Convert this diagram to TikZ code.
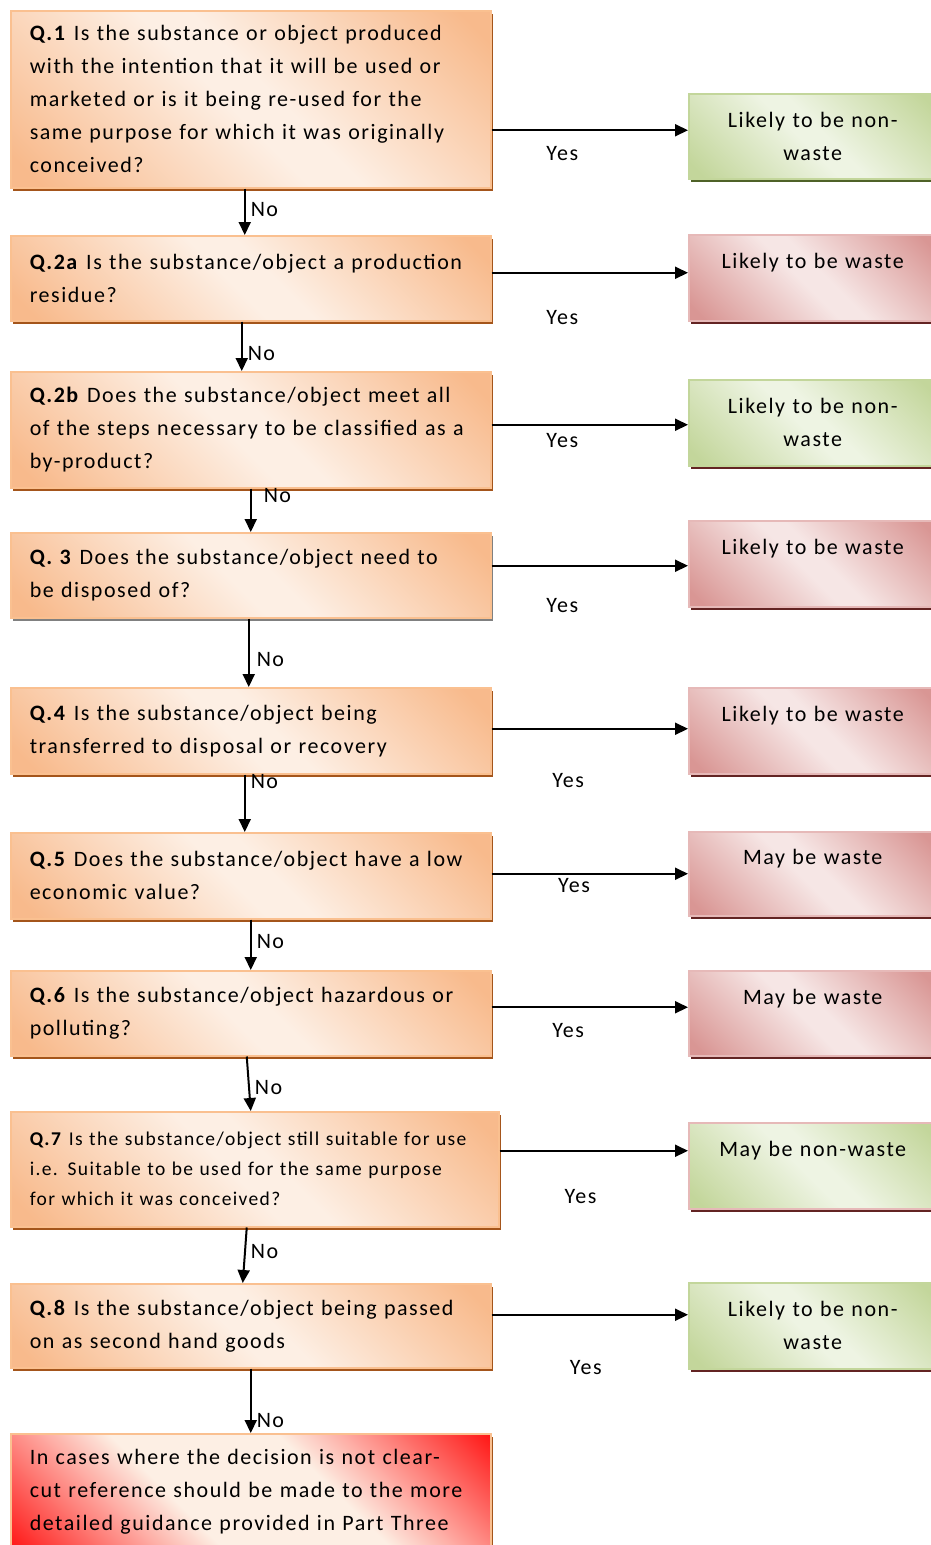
\documentclass[tikz,border=0pt]{standalone}
\usepackage{fontspec}
\setmainfont{Carlito}[LetterSpace=7]
\usetikzlibrary{arrows.meta,shadows}
\definecolor{qedge}{HTML}{F8BA8C}
\definecolor{qmid}{HTML}{FDEFE4}
\definecolor{qline}{HTML}{FAC090}
\definecolor{qshadow}{HTML}{A4551B}
\definecolor{gedge}{HTML}{C3D69B}
\definecolor{gmid}{HTML}{EEF4E3}
\definecolor{gline}{HTML}{C3D69B}
\definecolor{gshadow}{HTML}{4F6228}
\definecolor{redge}{HTML}{D99694}
\definecolor{rmid}{HTML}{F6E6E5}
\definecolor{rline}{HTML}{E6B9B8}
\definecolor{rshadow}{HTML}{632423}
\definecolor{fedge}{HTML}{FF0000}
\pgfdeclareverticalshading{qshade}{100bp}{color(0bp)=(qedge); color(18bp)=(qedge); color(47bp)=(qmid);
  color(53bp)=(qmid); color(82bp)=(qedge); color(100bp)=(qedge)}
\pgfdeclareverticalshading{gshade}{100bp}{color(0bp)=(gedge); color(18bp)=(gedge); color(47bp)=(gmid);
  color(53bp)=(gmid); color(82bp)=(gedge); color(100bp)=(gedge)}
\pgfdeclareverticalshading{rshade}{100bp}{color(0bp)=(redge); color(18bp)=(redge); color(47bp)=(rmid);
  color(53bp)=(rmid); color(82bp)=(redge); color(100bp)=(redge)}
\pgfdeclareverticalshading{fshade}{100bp}{color(0bp)=(fedge); color(12bp)=(fedge); color(40bp)=(qmid);
  color(60bp)=(qmid); color(88bp)=(fedge); color(100bp)=(fedge)}
\begin{document}
\begin{tikzpicture}[x=1pt,y=-1pt,
  font=\fontsize{22}{33}\selectfont,
  box/.style={line width=1.5pt, anchor=north west, inner ysep=0pt, shading angle=135,
    general shadow={fill=#1, shadow xshift=2pt, shadow yshift=-3pt}},
  question/.style={box=qshadow, draw=qline, align=left, text width=442pt, inner xsep=19pt,
    shading=qshade},
  greenbox/.style={box=#1, draw=gline, align=center, text width=240pt, inner xsep=4pt,
    minimum height=86pt, shading=gshade},
  greenbox/.default=gshadow,
  redbox/.style={box=rshadow, draw=rline, align=center, text width=240pt, inner xsep=4pt,
    minimum height=86pt, shading=rshade},
  yesarrow/.style={line width=2pt, -{Triangle[length=13pt,width=12pt]}},
  noarrow/.style={line width=2pt, -{Triangle[length=13pt,width=12pt]}},
  answer/.style={inner sep=0pt}]
\useasboundingbox (0,0) rectangle (931,1545);

% questions
\node[question, minimum height=177pt] (q1) at (10,10)
  {\textbf{Q.1} Is the substance or object produced\\ with the intention that it will be used or\\
   marketed or is it being re-used for the\\ same purpose for which it was originally\\ conceived?};
\node[question, minimum height=85pt] (q2a) at (10,235)
  {\textbf{Q.2a} Is the substance/object a production\\ residue?};
\node[question, minimum height=116pt] (q2b) at (10,371)
  {\textbf{Q.2b} Does the substance/object meet all\\ of the steps necessary to be classified as a\\ by-product?};
\node[question, minimum height=85pt, general shadow={fill=gray, shadow xshift=2pt, shadow yshift=-3pt}] (q3) at (10,532)
  {\textbf{Q. 3} Does the substance/object need to\\ be disposed of?};
\node[question, minimum height=86pt] (q4) at (10,687)
  {\textbf{Q.4} Is the substance/object being\\ transferred to disposal or recovery};
\node[question, minimum height=86pt] (q5) at (10,832)
  {\textbf{Q.5} Does the substance/object have a low\\ economic value?};
\node[question, minimum height=85pt] (q6) at (10,970)
  {\textbf{Q.6} Is the substance/object hazardous or\\ polluting?};
\node[question, minimum height=115pt, text width=450pt, font=\fontsize{19.5}{30}\selectfont] (q7) at (10,1111)
  {\textbf{Q.7} Is the substance/object still suitable for use\\ i.e. Suitable to be used for the same purpose\\ for which it was conceived?};
\node[question, minimum height=84pt] (q8) at (10,1283)
  {\textbf{Q.8} Is the substance/object being passed\\ on as second hand goods};
\node[question, minimum height=116pt, shading=fshade] (guide) at (10,1433)
  {In cases where the decision is not clear-\\ cut reference should be made to the more\\ detailed guidance provided in Part Three};

% outcomes
\node[greenbox, minimum height=85pt] (r1) at (688,93) {Likely to be non-\\waste};
\node[redbox] (r2) at (688,234) {Likely to be waste\\~};
\node[greenbox=rshadow] (r3) at (688,379) {Likely to be non-\\waste};
\node[redbox] (r4) at (688,520) {Likely to be waste\\~};
\node[redbox] (r5) at (688,687) {Likely to be waste\\~};
\node[redbox, minimum height=84pt] (r6) at (688,831) {May be waste\\~};
\node[redbox, minimum height=85pt] (r7) at (688,970) {May be waste\\~};
\node[greenbox=rshadow, draw=rline] (r8) at (688,1122) {May be non-waste\\~};
\node[greenbox=rshadow] (r9) at (688,1282) {Likely to be non-\\waste};

% yes
\draw[yesarrow, transform canvas={yshift=6pt}] (q1.east |- r1.west) -- node[answer, pos=.36, yshift=-23pt] {Yes} (r1.west);
\draw[yesarrow, transform canvas={yshift=5pt}] (q2a.east |- r2.west) -- node[answer, pos=.36, yshift=-45pt] {Yes} (r2.west);
\draw[yesarrow, transform canvas={yshift=-2pt}] (q2b.east |- r3.west) -- node[answer, pos=.36, yshift=-16pt] {Yes} (r3.west);
\draw[yesarrow, transform canvas={yshift=-2pt}] (q3.east |- r4.west) -- node[answer, pos=.36, yshift=-40pt] {Yes} (r4.west);
\draw[yesarrow, transform canvas={yshift=2pt}] (q4.east |- r5.west) -- node[answer, pos=.39, yshift=-52pt] {Yes} (r5.west);
\draw[yesarrow] (q5.east |- r6.west) -- node[answer, pos=.42, yshift=-12pt] {Yes} (r6.west);
\draw[yesarrow, transform canvas={yshift=6pt}] (q6.east |- r7.west) -- node[answer, pos=.39, yshift=-23pt] {Yes} (r7.west);
\draw[yesarrow, transform canvas={yshift=15pt}] (q7.east |- r8.west) -- node[answer, pos=.43, yshift=-46pt] {Yes} (r8.west);
\draw[yesarrow, transform canvas={yshift=11pt}] (q8.east |- r9.west) -- node[answer, pos=.48, yshift=-53pt] {Yes} (r9.west);

% no
\draw[noarrow, transform canvas={xshift=-6pt}] (q1.south) -- node[answer, right=5pt, pos=.46] {No} (q2a.north);
\draw[noarrow, transform canvas={xshift=-9pt}] (q2a.south) -- node[answer, right=5pt, pos=.65] {No} (q2b.north);
\draw[noarrow] (q2b.south) -- node[answer, right=12pt, pos=.16] {No} (q3.north);
\draw[noarrow, transform canvas={xshift=-2pt}] (q3.south) -- node[answer, right=7pt, pos=.6] {No} (q4.north);
\draw[noarrow, transform canvas={xshift=-6pt}] (q4.south) -- node[answer, right=5pt, pos=.12] {No} (q5.north);
\draw[noarrow] (q5.south) -- node[answer, right=5pt, pos=.43] {No} (q6.north);
\draw[noarrow, transform canvas={xshift=-4pt}] (q6.south) -- node[answer, right=5pt, pos=.56] {No} (q7.north);
\draw[noarrow, transform canvas={xshift=-8pt}] (q7.south) -- node[answer, right=5pt, pos=.44] {No} (q8.north);
\draw[noarrow] (q8.south) -- node[answer, right=5pt, pos=.8] {No} (guide.north);
\end{tikzpicture}
\end{document}
